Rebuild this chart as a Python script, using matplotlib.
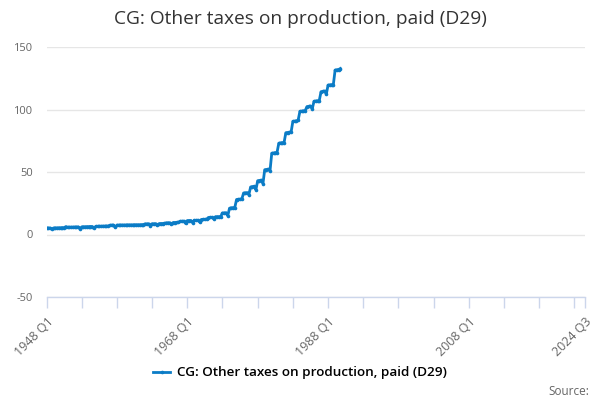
import matplotlib
matplotlib.use("Agg")
import matplotlib.pyplot as plt
from matplotlib.lines import Line2D

plt.rcParams['font.family'] = ['Open Sans', 'DejaVu Sans']

title = "CG: Other taxes on production, paid (D29)"
series_name = "CG: Other taxes on production, paid (D29)"

years = list(range(1948, 1990))
values = [
    5.3, 5.2, 5.2, 4.4,
    5.2, 5.3, 5.3, 5.4,
    5.4, 5.5, 5.5, 6.3,
    5.8, 5.8, 5.9, 5.9,
    6.0, 6.0, 6.1, 4.6,
    6.1, 6.2, 6.2, 6.3,
    6.3, 6.4, 6.4, 5.2,
    6.5, 6.5, 6.6, 6.6,
    6.7, 6.7, 6.8, 6.8,
    7.4, 7.5, 7.5, 5.8,
    7.5, 7.5, 7.6, 7.6,
    7.6, 7.6, 7.7, 7.7,
    7.7, 7.7, 7.8, 7.8,
    7.8, 7.8, 7.9, 7.9,
    8.5, 8.5, 8.6, 6.8,
    8.6, 8.6, 8.7, 7.4,
    8.7, 8.8, 8.8, 8.9,
    9.3, 9.4, 9.4, 8.2,
    9.6, 9.6, 9.7, 9.7,
    10.6, 10.6, 10.7, 8.9,
    11.1, 11.2, 11.2, 9.6,
    11.3, 11.3, 11.4, 10.0,
    12.0, 12.1, 12.1, 12.2,
    13.6, 13.7, 13.7, 12.5,
    14.2, 14.3, 14.3, 14.4,
    17.2, 17.3, 17.4, 15.0,
    21.0, 21.3, 21.5, 21.6,
    28.0, 28.1, 28.3, 28.4,
    33.2, 33.3, 33.5, 32.0,
    38.0, 38.3, 38.5, 35.8,
    43.0, 43.2, 43.5, 40.8,
    51.8, 52.0, 52.3, 50.8,
    65.0, 65.2, 65.5, 65.6,
    73.0, 73.3, 73.5, 73.6,
    81.4, 81.6, 81.8, 82.0,
    90.5, 90.7, 90.9, 91.5,
    98.5, 98.7, 98.9, 99.1,
    102.3, 102.5, 102.7, 100.5,
    106.5, 106.8, 107.0, 107.2,
    114.2, 114.5, 114.8, 112.3,
    119.5, 119.7, 119.9, 120.0,
    131.5, 131.8, 132.0, 132.8,
]

# full category axis 1948 Q1 .. 2024 Q3
categories = [f"{y} Q{q}" for y in range(1948, 2025) for q in range(1, 5)]
categories = categories[:categories.index("2024 Q3") + 1]
tick_labels = ["1948 Q1", "1968 Q1", "1988 Q1", "2008 Q1", "2024 Q3"]
y_ticks = [-50, 0, 50, 100, 150]

color = '#0b7cc6'
fig = plt.figure(figsize=(6, 4), dpi=100)
ax = fig.add_axes([0.0775, 0.2575, 0.8975, 0.625])

x = list(range(len(values)))
ax.plot(x, values, color=color, lw=2, marker='o', ms=2.6, mew=0)

ax.set_xlim(0, len(categories) - 1)
ax.set_ylim(-50, 150)
ax.set_yticks(y_ticks)
ax.set_yticklabels([str(v) for v in y_ticks])
ax.grid(axis='y', color='#e6e6e6', lw=1)
ax.set_axisbelow(True)

minor = list(range(0, len(categories), 20)) + [len(categories) - 1]
ax.set_xticks(minor)
lab = [c if c in tick_labels else "" for c in (categories[i] for i in minor)]
ax.set_xticklabels(lab, rotation=45, ha='right', va='top', rotation_mode='anchor')

for s in ['top', 'right', 'left']:
    ax.spines[s].set_visible(False)
ax.spines['bottom'].set_color('#ccd6eb')
ax.spines['bottom'].set_linewidth(1)
ax.tick_params(axis='x', colors='#ccd6eb', length=8, width=1, labelcolor='#666666', labelsize=9, pad=5)
ax.tick_params(axis='y', length=0, labelcolor='#666666', labelsize=8, pad=10)

fig.text(0.5, 0.952, title, ha='center', va='center', fontsize=13.8, color='#333333')

handle = Line2D([0], [0], color=color, lw=2, marker='o', ms=2.6, mew=0)
fig.legend([handle], [series_name], loc='center', bbox_to_anchor=(0.5, 0.068),
           frameon=False, handlelength=1.3, handletextpad=0.5,
           prop={'weight': 'semibold', 'size': 9.7})
fig.text(0.982, 0.022, "Source:", ha='right', va='center', fontsize=8.5, color='#666666')

fig.savefig("out.png", dpi=100)
